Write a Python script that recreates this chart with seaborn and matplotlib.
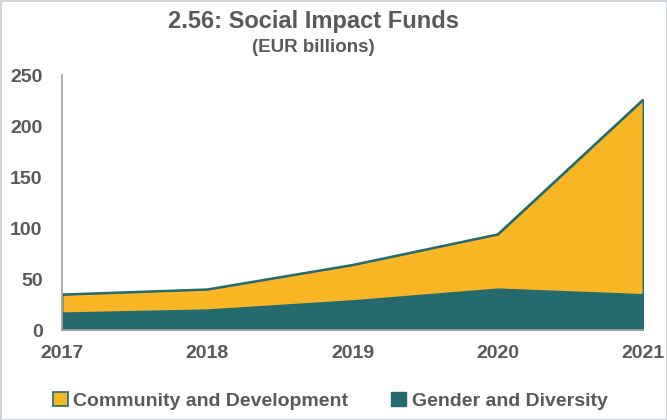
import matplotlib
matplotlib.use("Agg")
import matplotlib.pyplot as plt
import seaborn as sns
import pandas as pd
from matplotlib.patches import Patch

# values (EUR billions)
years = [2017, 2018, 2019, 2020, 2021]
gender_diversity = [17, 20, 29, 40.5, 35]
community_dev = [18, 20, 35, 53.5, 191]
series_names = ["Community and Development", "Gender and Diversity"]

yellow = "#F9B624"
teal = "#246A6E"
grey_text = "#595959"

sns.set_theme(style="white")
plt.rcParams["font.family"] = ["Liberation Sans", "DejaVu Sans"]
plt.rcParams["font.weight"] = "bold"

df = pd.DataFrame({"year": years,
                   "gender": gender_diversity,
                   "community": community_dev})
df["total"] = df["gender"] + df["community"]

fig = plt.figure(figsize=(6.67, 4.2), dpi=100)
fig.patch.set_edgecolor("#D0D5D9")
fig.patch.set_linewidth(2)
ax = fig.add_axes([0.093, 0.214, 0.871, 0.607])

ax.stackplot(df["year"], df["gender"], df["community"],
             colors=[teal, yellow], edgecolor=teal, linewidth=1.3)
sns.lineplot(data=df, x="year", y="total", color=teal, linewidth=1.5, ax=ax)

ax.set_xlim(2017, 2021)
ax.set_ylim(0, 250)
ax.set_xticks(years)
ax.set_yticks(range(0, 251, 50))
ax.set_xlabel("")
ax.set_ylabel("")
ax.tick_params(axis="both", labelsize=14, labelcolor=grey_text,
               direction="in", length=4, color="#A6A6A6", width=1)
ax.tick_params(axis="x", pad=11)
ax.tick_params(axis="y", pad=14)
for lab in ax.get_xticklabels() + ax.get_yticklabels():
    lab.set_fontweight("bold")

sns.despine(ax=ax, top=True, right=True)
ax.spines["left"].set_color("#A6A6A6")
ax.spines["bottom"].set_color("#A6A6A6")

fig.text(0.47, 0.948, "2.56: Social Impact Funds", ha="center", va="center",
         fontsize=17, fontweight="bold", color=grey_text)
fig.text(0.47, 0.888, "(EUR billions)", ha="center", va="center",
         fontsize=13.5, fontweight="bold", color=grey_text)

handles = [Patch(facecolor=yellow, edgecolor=teal, linewidth=1.2),
           Patch(facecolor=teal, edgecolor=teal)]
fig.legend(handles, series_names, loc="center", bbox_to_anchor=(0.495, 0.045),
           ncol=2, frameon=False, handlelength=0.75, handleheight=0.75,
           handletextpad=0.3, columnspacing=2.2,
           prop={"size": 14, "weight": "bold"}, labelcolor=grey_text)

fig.savefig("out.png", dpi=100)
